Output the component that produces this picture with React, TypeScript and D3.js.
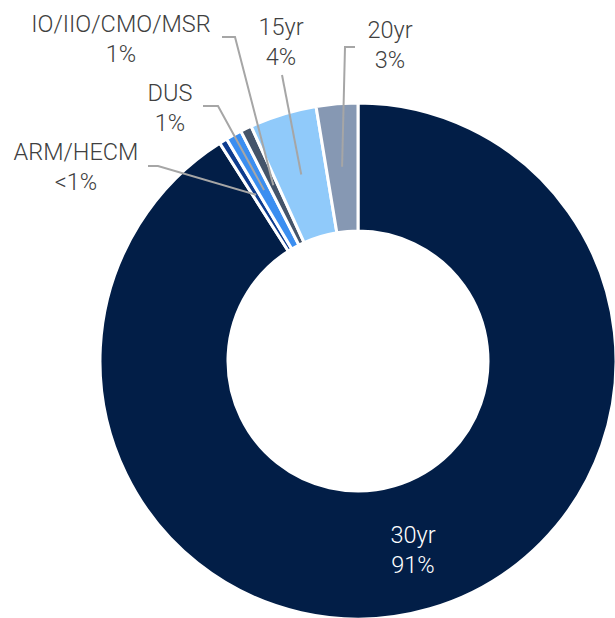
import React from "react";
import * as d3 from "d3";

const categories = ["30yr", "ARM/HECM", "DUS", "IO/IIO/CMO/MSR", "15yr", "20yr"];
const values = [91.0, 0.5, 1.0, 0.7, 4.2, 2.6];
const valueLabels = ["91%", "<1%", "1%", "1%", "4%", "3%"];
const colors = ["#021E47", "#0E3C8E", "#3B8EF0", "#44546A", "#90CAFA", "#8698B3"];

const W = 615;
const H = 618;
const cx = 358;
const cy = 361;
const rOuter = 258;
const rInner = 130;
const rLeader = 195;

const labelPos = [
  { x: 413, y: 543, lx: null as number | null, ly: 0, kx: 0 },
  { x: 76, y: 160, lx: 148, ly: 166, kx: 158 },
  { x: 170, y: 101, lx: 203, ly: 106, kx: 218 },
  { x: 121, y: 32, lx: 222, ly: 37, kx: 235 },
  { x: 281, y: 35, lx: 282, ly: 75, kx: 282 },
  { x: 390, y: 38, lx: 355, ly: 47, kx: 345 },
];

export default function App() {
  const pie = d3
    .pie<number>()
    .sort(null)
    .value((d) => d)
    .startAngle(0)
    .endAngle(2 * Math.PI);
  const arcs = pie(values);
  const arc = d3.arc<d3.PieArcDatum<number>>().innerRadius(rInner).outerRadius(rOuter);

  return (
    <svg width={W} height={H} style={{ position: "absolute", left: 0, top: 0 }}>
      <g transform={`translate(${cx},${cy})`}>
        {arcs.map((a, i) => (
          <path key={categories[i]} d={arc(a) || ""} fill={colors[i]} stroke="#fff" strokeWidth={3} />
        ))}
      </g>
      {arcs.map((a, i) => {
        const p = labelPos[i];
        if (p.lx === null) return null;
        const mid = (a.startAngle + a.endAngle) / 2;
        const ex = cx + Math.sin(mid) * rLeader;
        const ey = cy - Math.cos(mid) * rLeader;
        return (
          <path
            key={"l" + i}
            d={`M${p.lx},${p.ly}L${p.kx},${p.ly}L${ex},${ey}`}
            fill="none"
            stroke="#A6A6A6"
            strokeWidth={2}
          />
        );
      })}
      {categories.map((c, i) => {
        const p = labelPos[i];
        const fill = i === 0 ? "#FFFFFF" : "#404040";
        return (
          <text
            key={"t" + i}
            x={p.x}
            y={p.y}
            textAnchor="middle"
            fontFamily="Roboto"
            fontWeight={300}
            fontSize={23.5}
            fill={fill}
          >
            <tspan x={p.x}>{c}</tspan>
            <tspan x={p.x} dy={29.5}>
              {valueLabels[i]}
            </tspan>
          </text>
        );
      })}
    </svg>
  );
}
